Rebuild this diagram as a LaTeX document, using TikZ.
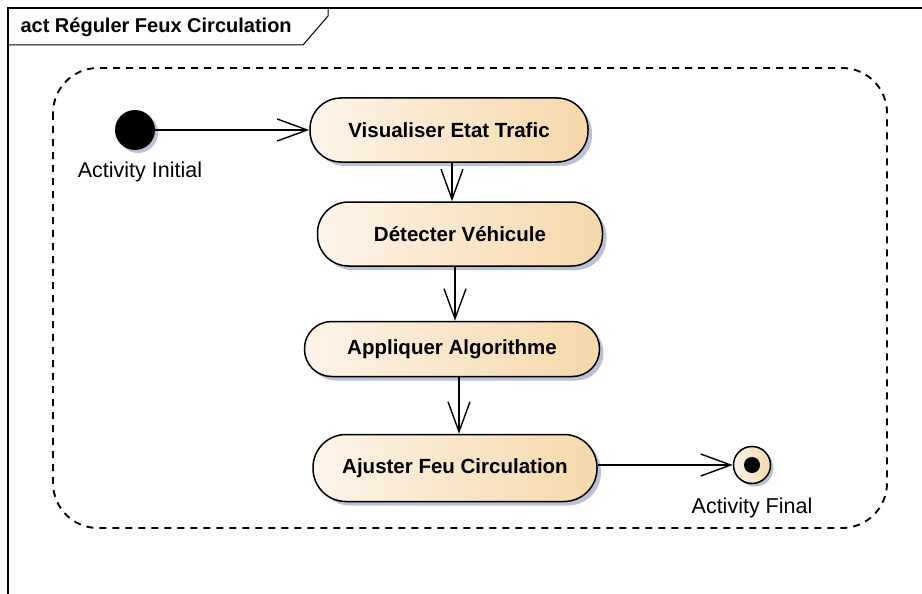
\documentclass[tikz,border=0pt]{standalone}
\usepackage{fontspec}
\setmainfont{Liberation Sans}
\usetikzlibrary{arrows.meta,shadows}
\definecolor{actleft}{HTML}{FDF4E9}
\definecolor{actright}{HTML}{F5D8AA}
\definecolor{shadowgrey}{HTML}{BAC1D6}
\tikzset{
  action/.style={rectangle, rounded corners=31pt, draw, line width=1.5pt,
    left color=actleft, right color=actright, minimum height=64pt,
    font=\bfseries\fontsize{20.5}{22}\selectfont,
    drop shadow={shadow xshift=4pt, shadow yshift=-4pt, fill=shadowgrey, opacity=1}},
  flow/.style={-{Straight Barb[length=30pt,width=22pt,line width=1.4pt]}, line width=1.4pt},
  lbl/.style={font=\fontsize{21.5}{23}\selectfont}
}
\begin{document}
\begin{tikzpicture}[x=1pt,y=-1pt]
  \useasboundingbox[fill=white] (0,0) rectangle (922,594);
  % frame
  \draw[line width=2pt] (8,594) -- (8,8) -- (922,8);
  \draw[line width=1pt] (8,45) -- (303,45) -- (328,16) -- (328,8);
  \node[anchor=west, font=\bfseries\fontsize{20}{22}\selectfont] (title) at (17,27) {act Réguler Feux Circulation};
  \draw[line width=1.9pt, dash pattern=on 7pt off 6pt, rounded corners=45pt] (53,68) rectangle (887,528);
  % nodes
  \node[circle, fill=black, minimum size=40pt, inner sep=0pt,
    drop shadow={shadow xshift=3pt, shadow yshift=-3pt, fill=shadowgrey, opacity=1}] (init) at (135,130) {};
  \node[lbl] (initlbl) at (140,172) {Activity Initial};
  \node[action, minimum width=278pt] (vis) at (449,130) {Visualiser Etat Trafic};
  \node[action, minimum width=285pt] (det) at (460,234) {Détecter Véhicule};
  \node[action, minimum width=295pt, minimum height=55pt, rounded corners=27pt] (app) at (452,349) {Appliquer Algorithme};
  \node[action, minimum width=284pt, minimum height=67pt, rounded corners=33pt] (adj) at (455,468) {Ajuster Feu Circulation};
  \node[circle, draw, line width=1.5pt, left color=actleft, right color=actright, minimum size=37pt, inner sep=0pt,
    drop shadow={shadow xshift=3pt, shadow yshift=-3pt, fill=shadowgrey, opacity=1}] (fin) at (752,465) {};
  \fill (fin.center) circle (8pt);
  \node[lbl] (finlbl) at (752,508) {Activity Final};
  % flows
  \begin{scope}[flow]
    \draw (init) -- (vis);
    \draw ([xshift=3pt]vis.south) -- ([xshift=-8pt]det.north);
    \draw ([xshift=-5pt]det.south) -- ([xshift=3pt]app.north);
    \draw ([xshift=7pt]app.south) -- ([xshift=4pt]adj.north);
    \draw (fin -| adj.east) -- (fin);
  \end{scope}
\end{tikzpicture}
\end{document}
